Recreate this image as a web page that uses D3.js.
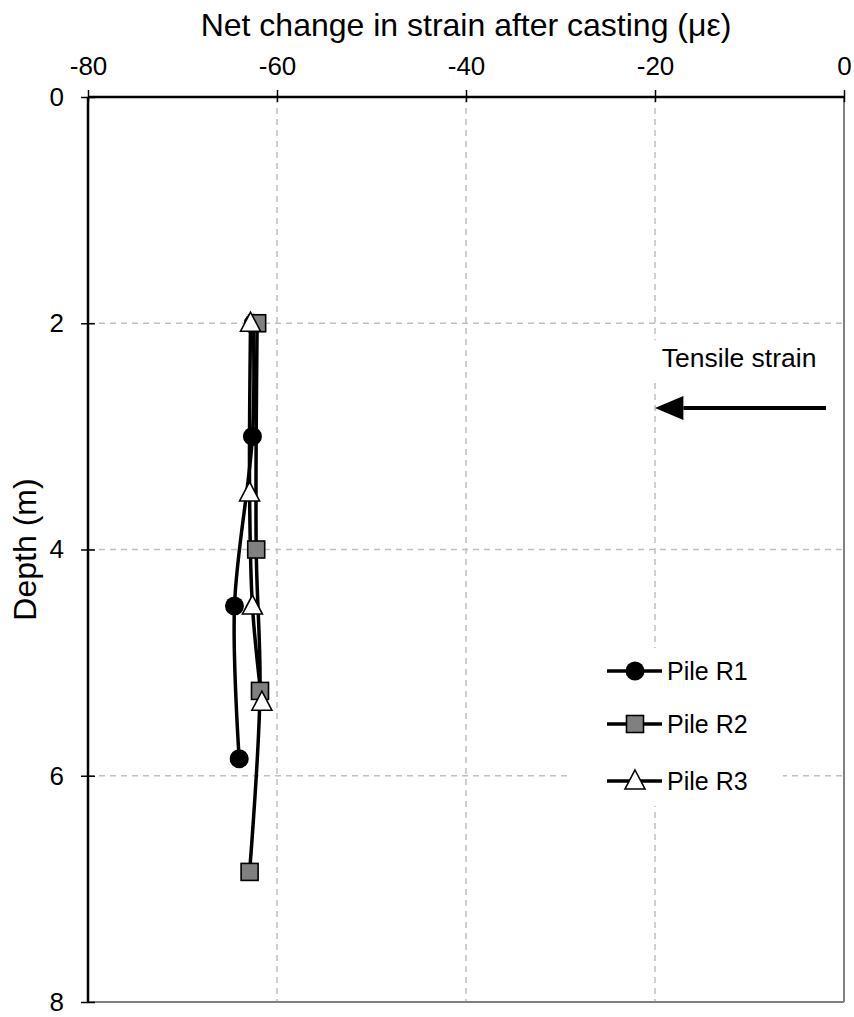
<!DOCTYPE html>
<html>
  <head>
    <meta charset="UTF-8">
    <title>Net change in strain after casting</title>
    <script src="https://d3js.org/d3.v7.min.js"></script>
    <style>
      body { margin: 0; background: #fff; }
      svg.chart { font-family: "Liberation Sans", Arial, sans-serif; }
    </style>
  </head>
  <body>
    <div id="chart"></div>
    <script>
      // Data (strain in µε, depth in m)
      const pileNames = ["Pile R1", "Pile R2", "Pile R3"];
      const depthR1 = [2, 3, 4.5, 5.85];
      const strainR1 = [-62.5, -62.6, -64.5, -64.0];
      const depthR2 = [2, 4, 5.25, 6.85];
      const strainR2 = [-62.1, -62.2, -61.8, -62.9];
      const depthR3 = [2, 3.5, 4.5, 5.35];
      const strainR3 = [-62.8, -62.9, -62.6, -61.6];
      const xTicks = [-80, -60, -40, -20, 0];
      const yTicks = [0, 2, 4, 6, 8];

      const width = 854, height = 1017;
      const margin = { top: 97, right: 10, bottom: 15, left: 88 };
      const innerWidth = width - margin.left - margin.right;
      const innerHeight = height - margin.top - margin.bottom;

      const svg = d3.select("#chart")
        .append("svg")
        .attr("width", width)
        .attr("height", height)
        .attr("class", "chart");

      const g = svg.append("g")
        .attr("transform", `translate(${margin.left}, ${margin.top})`);

      const x = d3.scaleLinear().domain([-80, 0]).range([0, innerWidth]);
      const y = d3.scaleLinear().domain([0, 8]).range([0, innerHeight]);

      // gridlines
      g.selectAll(".vgrid")
        .data(xTicks.slice(1, -1))
        .enter().append("line")
        .attr("x1", d => x(d)).attr("x2", d => x(d))
        .attr("y1", 0).attr("y2", innerHeight)
        .attr("stroke", "#c0c0c0").attr("stroke-width", 1.5)
        .attr("stroke-dasharray", "6,5");
      g.selectAll(".hgrid")
        .data(yTicks.slice(1, -1))
        .enter().append("line")
        .attr("x1", 0).attr("x2", innerWidth)
        .attr("y1", d => y(d)).attr("y2", d => y(d))
        .attr("stroke", "#c0c0c0").attr("stroke-width", 1.5)
        .attr("stroke-dasharray", "6,5");

      // right and bottom border
      g.append("line")
        .attr("x1", innerWidth).attr("x2", innerWidth)
        .attr("y1", 0).attr("y2", innerHeight)
        .attr("stroke", "#808080").attr("stroke-width", 2);
      g.append("line")
        .attr("x1", 0).attr("x2", innerWidth)
        .attr("y1", innerHeight).attr("y2", innerHeight)
        .attr("stroke", "#808080").attr("stroke-width", 2);

      // top axis
      const xAxis = g.append("g")
        .call(d3.axisTop(x).tickValues(xTicks).tickSize(7).tickPadding(15).tickFormat(d => String(d)));
      xAxis.select(".domain").attr("stroke-width", 2.5).attr("d", `M0,0H${innerWidth}`);
      xAxis.selectAll(".tick line").attr("y1", 5).attr("y2", -7).attr("stroke-width", 1.5);
      xAxis.selectAll("text").attr("font-size", 26).attr("font-family", "Liberation Sans, Arial, sans-serif").attr("fill", "#000");

      // left axis
      const yAxis = g.append("g")
        .call(d3.axisLeft(y).tickValues(yTicks).tickSize(7).tickPadding(17).tickFormat(d => String(d)));
      yAxis.select(".domain").attr("stroke-width", 2.5).attr("d", `M0,0V${innerHeight}`);
      yAxis.selectAll(".tick line").attr("x2", 7).attr("x1", -7).attr("stroke-width", 1.5);
      yAxis.selectAll("text").attr("font-size", 26).attr("font-family", "Liberation Sans, Arial, sans-serif").attr("fill", "#000");

      // axis titles
      svg.append("text")
        .attr("x", margin.left + x(-40)).attr("y", 36)
        .attr("text-anchor", "middle")
        .attr("font-size", 32)
        .text("Net change in strain after casting (με)");
      svg.append("text")
        .attr("transform", `translate(36, ${margin.top + y(4)}) rotate(-90)`)
        .attr("text-anchor", "middle")
        .attr("font-size", 32)
        .text("Depth (m)");

      // tensile strain annotation
      g.append("rect")
        .attr("x", x(-20) - 4).attr("y", y(2.15)).attr("width", 175).attr("height", 40)
        .attr("fill", "#fff");
      g.append("text")
        .attr("x", x(-11.1)).attr("y", 367 - margin.top)
        .attr("text-anchor", "middle")
        .attr("font-size", 26.5)
        .text("Tensile strain");
      g.append("line")
        .attr("x1", x(-1.9)).attr("x2", x(-17))
        .attr("y1", y(2.75)).attr("y2", y(2.75))
        .attr("stroke", "#000").attr("stroke-width", 4);
      g.append("path")
        .attr("d", `M${x(-20)},${y(2.75)} L${x(-17)},${y(2.75) - 12} L${x(-17)},${y(2.75) + 12} Z`)
        .attr("fill", "#000");

      // series
      const series = [
        { name: pileNames[0], pts: depthR1.map((d, i) => ({ d, s: strainR1[i] })), shape: "circle" },
        { name: pileNames[1], pts: depthR2.map((d, i) => ({ d, s: strainR2[i] })), shape: "square" },
        { name: pileNames[2], pts: depthR3.map((d, i) => ({ d, s: strainR3[i] })), shape: "triangle" }
      ];

      const line = d3.line()
        .x(p => x(p.s)).y(p => y(p.d))
        .curve(d3.curveCatmullRom.alpha(0.5));

      function drawMarker(sel, shape) {
        if (shape === "circle") {
          sel.append("circle").attr("r", 9.5).attr("fill", "#000");
        } else if (shape === "square") {
          sel.append("rect").attr("x", -8.5).attr("y", -8.5).attr("width", 17).attr("height", 17)
            .attr("fill", "#808080").attr("stroke", "#000").attr("stroke-width", 1.6);
        } else {
          sel.append("path").attr("d", "M0,-11 L10,8 L-10,8 Z")
            .attr("fill", "#fff").attr("stroke", "#000").attr("stroke-width", 1.6);
        }
      }

      series.forEach(sr => {
        g.append("path")
          .datum(sr.pts)
          .attr("d", line)
          .attr("fill", "none")
          .attr("stroke", "#000")
          .attr("stroke-width", 3.5);
      });
      series.forEach(sr => {
        sr.pts.forEach(p => {
          const m = g.append("g").attr("transform", `translate(${x(p.s)}, ${y(p.d)})`);
          drawMarker(m, sr.shape);
        });
      });

      // legend
      const legend = svg.append("g").attr("transform", "translate(568, 648)");
      legend.append("rect").attr("x", 0).attr("y", 0).attr("width", 215).attr("height", 158).attr("fill", "#fff");
      series.forEach((sr, i) => {
        const ly = [23, 76, 133][i];
        legend.append("line")
          .attr("x1", 39).attr("x2", 94).attr("y1", ly).attr("y2", ly)
          .attr("stroke", "#000").attr("stroke-width", 3.5);
        const m = legend.append("g").attr("transform", `translate(67, ${ly})`);
        drawMarker(m, sr.shape);
        legend.append("text")
          .attr("x", 99).attr("y", ly + 9)
          .attr("font-size", 25)
          .text(sr.name);
      });
    </script>
  </body>
</html>
